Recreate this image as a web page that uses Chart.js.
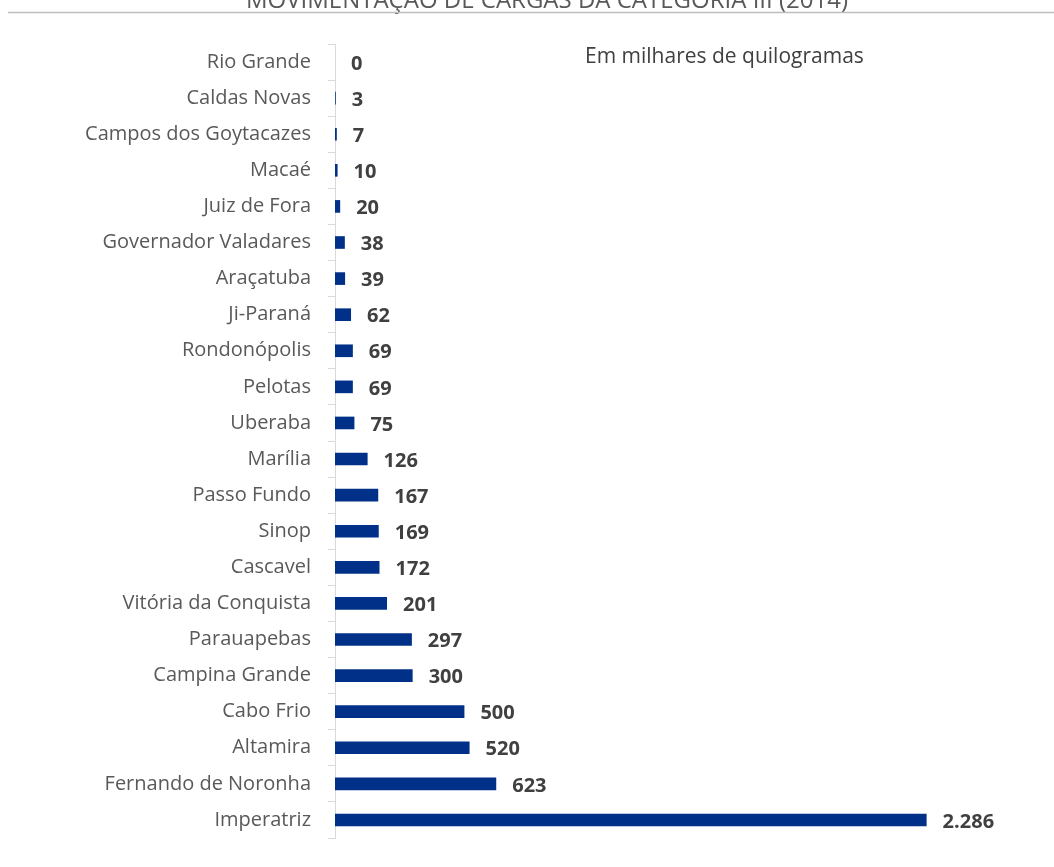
<!DOCTYPE html>
<html>
<head>
<meta charset="utf-8">
<script src="https://cdn.jsdelivr.net/npm/chart.js@4/dist/chart.umd.min.js"></script>
<style>
  html, body { margin: 0; padding: 0; background: #fff; }
  #wrap { width: 1054px; height: 867px; position: relative; }
</style>
</head>
<body>
<div id="wrap"><canvas id="chart"></canvas></div>
<script>
const cities = [
  "Rio Grande", "Caldas Novas", "Campos dos Goytacazes", "Macaé", "Juiz de Fora",
  "Governador Valadares", "Araçatuba", "Ji-Paraná", "Rondonópolis", "Pelotas",
  "Uberaba", "Marília", "Passo Fundo", "Sinop", "Cascavel", "Vitória da Conquista",
  "Parauapebas", "Campina Grande", "Cabo Frio", "Altamira", "Fernando de Noronha",
  "Imperatriz"
];
const cargas = [0, 3, 7, 10, 20, 38, 39, 62, 69, 69, 75, 126, 167, 169, 172, 201, 297, 300, 500, 520, 623, 2286];

const titulo = "MOVIMENTAÇÃO DE CARGAS DA CATEGORIA III (2014)";
const nota = "Em milhares de quilogramas";

const FONT = "'Open Sans', sans-serif";

// formato brasileiro: 2286 -> 2.286
function fmt(v) {
  return String(v).replace(/\B(?=(\d{3})+(?!\d))/g, ".");
}

const extras = {
  id: "extras",
  afterDatasetsDraw(chart) {
    const ctx = chart.ctx;
    const meta = chart.getDatasetMeta(0);
    ctx.save();
    ctx.font = "bold 20px " + FONT;
    ctx.fillStyle = "#404040";
    ctx.textBaseline = "middle";
    ctx.textAlign = "left";
    meta.data.forEach((bar, i) => {
      ctx.fillText(fmt(cargas[i]), bar.x + 16, bar.y + 2);
    });

    ctx.font = "21px " + FONT;
    ctx.fillText(nota, 585, 57);

    // title, cut off at the top
    ctx.font = "24px " + FONT;
    ctx.fillStyle = "#595959";
    ctx.textAlign = "center";
    ctx.textBaseline = "alphabetic";
    ctx.fillText(titulo, 547, 8);

    ctx.strokeStyle = "#bfbfbf";
    ctx.lineWidth = 1.5;
    ctx.beginPath();
    ctx.moveTo(8, 12.5);
    ctx.lineTo(1054, 12.5);
    ctx.stroke();
    ctx.restore();
  }
};

new Chart(document.getElementById("chart"), {
  type: "bar",
  data: {
    labels: cities,
    datasets: [{
      data: cargas,
      backgroundColor: "#003087",
      barPercentage: 0.35,
      categoryPercentage: 1
    }]
  },
  options: {
    indexAxis: "y",
    responsive: true,
    maintainAspectRatio: false,
    animation: false,
    layout: { padding: { top: 44, bottom: 5, left: 0, right: 72 } },
    plugins: { legend: { display: false }, tooltip: { enabled: false } },
    scales: {
      x: { display: false, min: 0, max: 2500 },
      y: {
        afterFit: s => { s.width = 335; },
        grid: {
          offset: true,
          drawOnChartArea: false,
          color: "#d9d9d9",
          tickLength: 7
        },
        border: { color: "#d9d9d9" },
        ticks: {
          color: "#595959",
          padding: 17,
          font: { family: FONT, size: 20 }
        }
      }
    }
  },
  plugins: [extras]
});
</script>
</body>
</html>
